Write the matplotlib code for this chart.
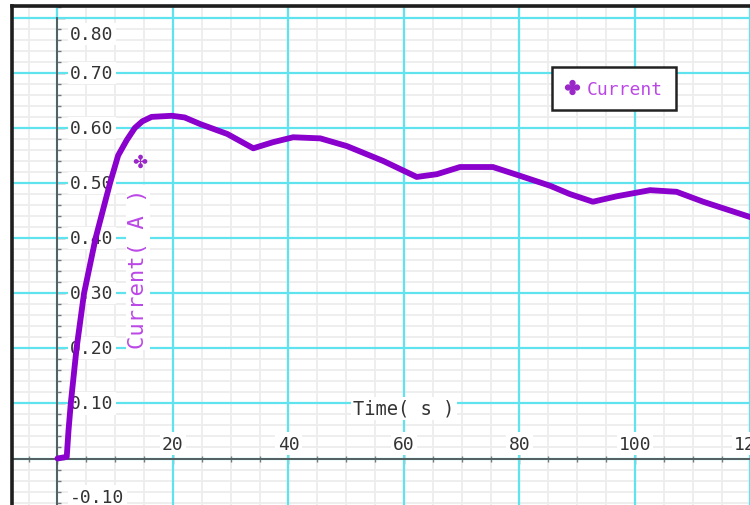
import numpy as np
import matplotlib
matplotlib.use("Agg")
import matplotlib.pyplot as plt
from matplotlib.lines import Line2D
from matplotlib.ticker import MultipleLocator

# ---- data ----
time_s = [0, 1.6, 1.9, 2.3, 2.8, 3.3, 4.6, 6.6, 9.1, 10.5, 12.0, 13.4, 14.7, 16.3, 19.8,
          22, 24.7, 29.4, 33.9, 37.3, 40.8, 45.5, 50.1, 56.4, 62.2, 65.7, 69.7, 75.4,
          80.1, 85.3, 88.7, 92.7, 96.9, 102.6, 107.2, 111.8, 120]
current_a = [0.0, 0.003, 0.05, 0.10, 0.15, 0.20, 0.30, 0.40, 0.50, 0.55, 0.578, 0.60,
             0.612, 0.620, 0.622, 0.619, 0.607, 0.589, 0.563, 0.574, 0.583, 0.581, 0.567,
             0.540, 0.511, 0.516, 0.529, 0.529, 0.513, 0.495, 0.480, 0.466, 0.476, 0.487,
             0.484, 0.466, 0.438]
xtick_vals = [20, 40, 60, 80, 100, 120]
xtick_labels = ["20", "40", "60", "80", "100", "120"]
ytick_vals = [-0.1, 0.1, 0.2, 0.3, 0.4, 0.5, 0.6, 0.7, 0.8]
ytick_labels = ["-0.10", "0.10", "0.20", "0.30", "0.40", "0.50", "0.60", "0.70", "0.80"]
series_name = "Current"
x_label = "Time( s )"
y_label = "Current( A )"

W, H = 750, 506
fig = plt.figure(figsize=(W / 100, H / 100), dpi=100)

# pixel geometry
sx, x0px = 5.775, 57.5
sy, y0px = 551.0, 459.5
left_px, right_px, top_px, bot_px = 12, 760, 7, 516
xlim = ((left_px - x0px) / sx, (right_px - x0px) / sx)
ylim = ((y0px - bot_px) / sy, (y0px - top_px) / sy)

ax = fig.add_axes([left_px / W, (H - bot_px) / H, (right_px - left_px) / W, (bot_px - top_px) / H])
ax.set_xlim(*xlim)
ax.set_ylim(*ylim)
ax.set_facecolor("white")

mono = "DejaVu Sans Mono"
txt_col = "#333333"
purple = "#8a00cc"
light_purple = "#bb48e6"
marker_purple = "#9a28c8"
cyan = "#5fe3ef"

# grid: minor light gray via the axis, major cyan drawn on top of it
ax.xaxis.set_major_locator(MultipleLocator(20))
ax.xaxis.set_minor_locator(MultipleLocator(5))
ax.yaxis.set_major_locator(MultipleLocator(0.1))
ax.yaxis.set_minor_locator(MultipleLocator(0.02))
ax.grid(which="minor", color="#ededed", lw=1.3)
ax.set_axisbelow(True)
for gx in np.arange(-20, 141, 20):
    ax.axvline(gx, color=cyan, lw=1.6, zorder=0.8)
for gy in np.arange(-0.2, 0.81, 0.1):
    ax.axhline(gy, color=cyan, lw=1.6, zorder=0.8)

# spines as data axes at zero
for s in ("top", "right"):
    ax.spines[s].set_visible(False)
ax.spines["left"].set_position(("data", 0))
ax.spines["bottom"].set_position(("data", 0))
ax.spines["left"].set_bounds(-0.2, 0.8)
for s in ("left", "bottom"):
    ax.spines[s].set_color("#555555")
    ax.spines[s].set_linewidth(1.3)
    ax.spines[s].set_zorder(1.5)
ax.tick_params(axis="y", which="major", direction="in", length=6, width=1, color="#555555",
               labelleft=False)
ax.tick_params(axis="y", which="minor", direction="in", length=3, width=1, color="#777777")
ax.tick_params(axis="x", which="major", direction="inout", length=7, width=1, color="#555555",
               labelbottom=False)
ax.tick_params(axis="x", which="minor", direction="inout", length=5, width=1, color="#777777")

# outer frame (top and left)
fig.add_artist(Line2D([left_px / W, left_px / W], [0, 1 - top_px / H], color="#1e1e1e", lw=2.6,
                      transform=fig.transFigure))
fig.add_artist(Line2D([left_px / W, 1], [1 - top_px / H, 1 - top_px / H], color="#1e1e1e", lw=2.6,
                      transform=fig.transFigure))

wbox = dict(facecolor="white", edgecolor="none", pad=1.5)

# y tick labels (inside, to the right of the axis)
for v, lab in zip(ytick_vals, ytick_labels):
    pos = v
    if v >= 0.8:
        pos = v - 16 / sy
    if v <= -0.1:
        pos = v + 17 / sy
    ax.text(2.2, pos, lab, ha="left", va="center", fontsize=13, family=mono,
            color=txt_col, bbox=wbox, zorder=2)

# x tick labels (above the axis)
for v, lab in zip(xtick_vals, xtick_labels):
    ax.text(v, 0.027, lab, ha="center", va="center", fontsize=13, family=mono,
            color=txt_col, bbox=wbox, zorder=2)

# axis titles
ax.text(60, 0.091, x_label, ha="center", va="center", fontsize=13.5, family=mono,
        color=txt_col, bbox=wbox, zorder=2)
ax.text(13.9, 0.347, y_label, ha="center", va="center", rotation=90, fontsize=16,
        family=mono, color=light_purple, bbox=wbox, zorder=2)
ax.text(14.3, 0.539, "\u2724", ha="center", va="center", fontsize=13,
        family="DejaVu Sans", color=marker_purple, zorder=2)

# the series
ax.plot(time_s, current_a, color=purple, lw=4.2, solid_joinstyle="round",
        solid_capstyle="round", zorder=4)

# legend
handle = Line2D([], [], ls="none", marker="$\u2724$", ms=10, color=marker_purple)
leg = ax.legend([handle], [series_name], loc="upper left",
                bbox_to_anchor=(552 / W, 1 - 68 / H), bbox_transform=fig.transFigure,
                frameon=True, fancybox=False, framealpha=1, edgecolor="#222222",
                prop={"family": mono, "size": 13}, handlelength=0.8, handletextpad=0.45,
                borderaxespad=0, borderpad=0.7)
leg.get_frame().set_linewidth(1.8)
for t in leg.get_texts():
    t.set_color(light_purple)
leg.set_zorder(5)

fig.savefig("out.png", dpi=100)
